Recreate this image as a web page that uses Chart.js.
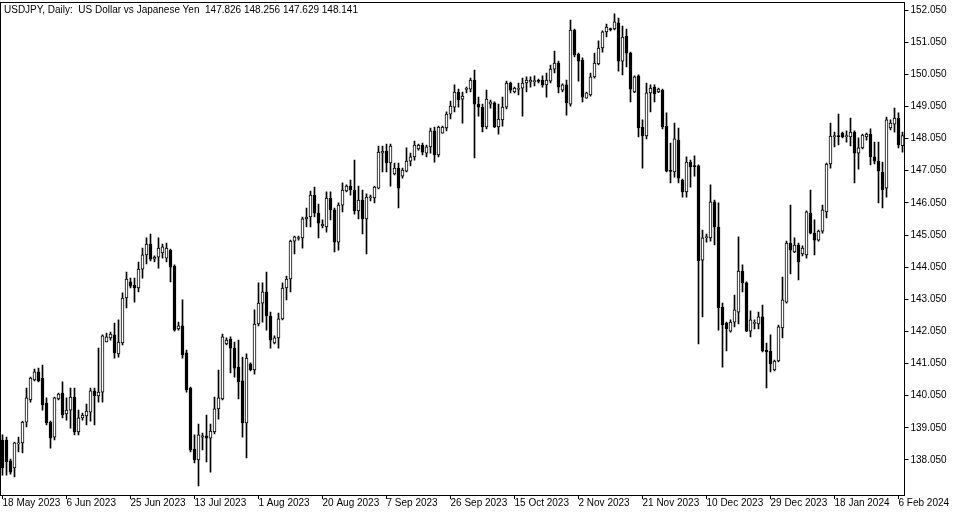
<!DOCTYPE html>
<html>
<head>
<meta charset="utf-8">
<script src="https://cdn.jsdelivr.net/npm/chart.js@4.4.1/dist/chart.umd.min.js"></script>
<style>
  html, body { margin: 0; padding: 0; background: #fff; }
  #wrap { position: relative; width: 957px; height: 512px; }
  #title { position: absolute; left: 4px; top: 4px; font: 10px "Liberation Sans", Arial, sans-serif; color: #000; white-space: pre; }
</style>
</head>
<body>
<div id="wrap">
  <canvas id="chart" width="957" height="512"></canvas>
  <div id="title">USDJPY, Daily:  US Dollar vs Japanese Yen  147.826 148.256 147.629 148.141</div>
</div>
<script>
// daily bars, oldest first
const opens = [
  138.67, 138.67, 138.02, 137.80, 138.55, 138.58, 139.23, 139.92, 140.54, 140.79,
  140.60, 139.82, 139.23, 138.76, 139.95, 140.13, 139.48, 139.60, 140.01, 138.92,
  139.36, 139.42, 139.54, 140.20, 140.04, 140.16, 141.72, 141.85, 141.94, 141.35,
  141.69, 143.09, 143.59, 143.49, 143.40, 143.99, 144.43, 144.77, 144.30, 144.36,
  144.49, 144.33, 144.58, 144.08, 142.13, 142.22, 141.38, 140.29, 138.39, 138.05,
  138.76, 138.80, 138.73, 138.92, 139.64, 139.95, 141.66, 141.81, 141.53, 140.94,
  140.51, 139.20, 141.04, 140.85, 142.28, 142.93, 143.28, 142.53, 141.69, 141.85,
  142.44, 143.40, 143.68, 144.86, 144.94, 144.96, 145.55, 145.61, 146.29, 145.73,
  145.33, 145.30, 146.20, 145.83, 144.83, 145.98, 146.42, 146.57, 146.45, 145.80,
  146.14, 145.55, 146.21, 146.20, 146.51, 147.60, 147.66, 147.29, 146.95, 147.13,
  146.88, 147.04, 147.35, 147.48, 147.73, 147.85, 147.60, 147.79, 148.29, 147.54,
  148.22, 148.38, 148.81, 149.03, 149.50, 149.28, 149.58, 149.59, 149.87, 149.12,
  149.03, 148.41, 149.12, 149.16, 148.41, 148.63, 149.03, 149.78, 149.50, 149.58,
  149.62, 149.78, 149.81, 149.82, 149.84, 149.87, 149.72, 149.84, 150.21, 150.40,
  149.56, 149.72, 149.12, 151.43, 150.68, 150.49, 149.31, 149.41, 149.97, 150.37,
  150.87, 151.37, 151.46, 151.46, 151.65, 150.46, 151.24, 150.71, 149.50, 150.00,
  148.41, 148.13, 149.47, 149.65, 149.50, 149.56, 148.44, 147.04, 147.01, 148.00,
  146.76, 146.39, 147.32, 147.20, 147.20, 144.27, 144.97, 144.96, 146.08, 145.30,
  142.81, 142.31, 142.06, 142.34, 142.65, 143.93, 143.56, 142.06, 142.30, 142.28,
  142.50, 141.47, 141.44, 140.85, 141.13, 142.16, 142.96, 144.80, 144.52, 144.74,
  144.46, 144.43, 145.73, 145.11, 144.89, 145.17, 145.77, 147.26, 148.11, 148.13,
  148.22, 148.11, 148.10, 148.25, 147.60, 147.76, 148.10, 148.19, 147.48, 147.35,
  147.01, 146.51, 148.38, 148.50, 148.69, 147.826
];
const highs = [
  138.83, 138.76, 138.08, 138.61, 138.76, 139.26, 140.29, 140.63, 140.88, 140.91,
  141.00, 139.98, 139.26, 140.01, 140.13, 140.48, 139.98, 140.29, 140.29, 139.60,
  139.51, 139.79, 140.29, 140.29, 141.53, 141.94, 142.00, 142.03, 142.31, 142.41,
  143.25, 143.90, 143.71, 143.71, 144.21, 144.64, 144.96, 145.08, 144.40, 144.96,
  144.77, 144.80, 144.61, 144.12, 142.34, 143.03, 141.47, 140.32, 138.83, 139.17,
  138.89, 139.45, 139.17, 140.01, 140.85, 141.97, 141.85, 141.88, 141.72, 141.78,
  141.25, 141.35, 141.07, 142.72, 143.56, 143.56, 143.90, 142.65, 141.91, 142.62,
  143.56, 143.77, 144.89, 145.02, 145.02, 145.61, 145.89, 146.42, 146.54, 146.01,
  145.52, 146.39, 146.39, 145.89, 146.05, 146.67, 146.61, 146.76, 147.38, 146.57,
  146.45, 146.33, 146.29, 146.57, 147.82, 147.82, 147.88, 147.88, 147.29, 147.29,
  147.13, 147.76, 147.60, 147.97, 147.88, 147.91, 147.85, 148.38, 148.41, 148.44,
  148.44, 148.88, 149.22, 149.72, 149.59, 149.50, 149.65, 149.93, 150.18, 149.34,
  149.12, 149.56, 149.25, 149.19, 149.12, 149.34, 149.84, 149.81, 149.65, 149.78,
  149.93, 149.97, 149.97, 150.00, 149.90, 150.00, 150.09, 150.34, 150.77, 150.46,
  149.75, 149.87, 151.74, 151.46, 150.71, 150.56, 149.50, 150.09, 150.71, 151.09,
  151.40, 151.61, 151.49, 151.93, 151.80, 151.55, 151.46, 150.74, 150.00, 150.03,
  148.63, 149.78, 149.72, 149.72, 149.62, 149.59, 148.85, 147.91, 148.53, 148.38,
  146.79, 147.48, 147.38, 147.51, 147.23, 145.20, 145.08, 146.61, 146.14, 146.05,
  142.93, 142.34, 142.41, 143.18, 144.99, 144.12, 143.59, 142.69, 142.41, 142.65,
  142.87, 141.69, 141.94, 141.16, 142.25, 143.74, 144.86, 145.98, 144.96, 144.80,
  144.71, 145.80, 146.45, 145.52, 145.20, 145.98, 147.29, 148.53, 148.25, 148.81,
  148.25, 148.29, 148.69, 148.29, 148.07, 148.19, 148.22, 148.35, 147.94, 147.94,
  147.32, 148.72, 148.63, 149.00, 148.85, 148.256
];
const lows = [
  137.58, 137.58, 137.61, 137.52, 138.30, 138.27, 139.08, 139.85, 140.51, 140.48,
  139.60, 139.14, 138.42, 138.67, 139.92, 139.36, 139.29, 139.04, 138.83, 138.83,
  139.29, 139.14, 139.26, 139.14, 139.85, 139.85, 141.72, 141.78, 141.22, 141.25,
  141.63, 142.78, 143.40, 142.96, 143.28, 143.71, 144.15, 144.24, 144.21, 144.02,
  144.33, 144.21, 143.59, 142.06, 142.09, 141.22, 140.16, 138.30, 137.96, 137.24,
  138.36, 137.99, 137.67, 138.86, 139.32, 139.92, 141.63, 140.76, 140.63, 139.95,
  138.76, 138.11, 140.82, 140.72, 142.22, 142.34, 142.09, 141.53, 141.66, 141.53,
  142.41, 143.03, 143.28, 144.46, 144.89, 144.64, 145.30, 145.30, 145.61, 144.96,
  145.27, 145.14, 145.52, 144.52, 144.58, 145.77, 146.39, 146.29, 145.70, 145.55,
  145.08, 144.46, 146.11, 146.05, 146.48, 147.01, 147.01, 146.57, 146.92, 145.89,
  146.82, 147.01, 147.20, 147.38, 147.69, 147.54, 147.48, 147.60, 147.32, 147.48,
  148.22, 148.29, 148.66, 148.88, 149.03, 148.53, 149.47, 149.50, 147.45, 148.75,
  148.26, 148.35, 149.00, 148.39, 148.19, 148.44, 148.97, 149.47, 149.47, 149.41,
  148.75, 149.50, 149.65, 149.69, 149.78, 149.65, 149.34, 149.78, 150.09, 149.47,
  149.50, 148.78, 149.06, 150.59, 149.84, 149.19, 149.31, 149.37, 149.93, 150.34,
  150.74, 151.21, 151.40, 151.43, 150.15, 150.03, 150.28, 149.19, 149.48, 148.10,
  147.13, 148.04, 148.88, 149.19, 149.48, 148.35, 147.01, 146.67, 146.85, 146.67,
  146.23, 146.23, 146.54, 146.88, 141.66, 142.50, 144.83, 144.86, 144.74, 142.09,
  140.94, 141.44, 142.03, 142.19, 142.28, 143.28, 142.04, 141.88, 142.13, 142.13,
  141.41, 140.29, 140.79, 140.82, 141.10, 141.85, 142.93, 143.84, 144.50, 143.65,
  144.40, 144.33, 145.08, 144.43, 144.86, 145.11, 145.58, 147.13, 147.79, 147.85,
  148.07, 147.94, 147.82, 146.67, 147.10, 147.73, 148.00, 147.23, 147.26, 146.05,
  145.89, 146.23, 148.32, 148.25, 147.76, 147.629
];
const closes = [
  137.80, 137.99, 137.67, 138.58, 138.58, 139.23, 139.98, 140.60, 140.79, 140.51,
  139.76, 139.20, 138.73, 139.98, 140.10, 139.45, 139.60, 140.01, 138.92, 139.36,
  139.45, 139.57, 140.20, 140.04, 140.16, 141.91, 141.88, 141.97, 141.38, 141.72,
  143.09, 143.68, 143.46, 143.40, 143.99, 144.43, 144.77, 144.30, 144.36, 144.64,
  144.68, 144.64, 144.05, 142.09, 142.22, 141.32, 140.23, 138.36, 138.05, 138.83,
  138.80, 138.73, 138.95, 139.64, 139.98, 141.88, 141.78, 141.53, 140.91, 140.48,
  139.20, 141.22, 140.85, 142.28, 142.93, 143.28, 142.53, 141.78, 141.85, 142.44,
  143.40, 143.68, 144.86, 144.99, 144.96, 145.55, 145.61, 146.29, 145.73, 145.42,
  145.39, 146.20, 145.83, 144.83, 145.98, 146.45, 146.57, 146.45, 145.80, 146.14,
  145.55, 146.23, 146.23, 146.54, 147.63, 147.66, 147.29, 147.82, 147.13, 146.51,
  147.07, 147.35, 147.48, 147.85, 147.85, 147.63, 147.79, 148.29, 147.54, 148.41,
  148.41, 148.81, 149.06, 149.50, 149.25, 149.37, 149.59, 149.87, 149.12, 149.03,
  148.41, 149.28, 149.19, 148.41, 148.66, 149.03, 149.78, 149.56, 149.62, 149.59,
  149.78, 149.87, 149.87, 149.84, 149.83, 149.72, 149.87, 150.21, 150.40, 149.65,
  149.72, 149.16, 151.43, 150.65, 150.46, 149.34, 149.47, 149.97, 150.40, 150.87,
  151.37, 151.52, 151.44, 151.68, 150.46, 151.21, 150.71, 149.59, 149.97, 148.38,
  148.13, 149.47, 149.62, 149.44, 149.59, 148.41, 147.04, 147.03, 148.04, 146.82,
  146.39, 147.32, 147.17, 147.18, 144.24, 144.96, 144.99, 146.08, 145.30, 142.78,
  142.25, 142.13, 142.34, 142.72, 143.93, 143.56, 142.06, 142.41, 142.31, 142.50,
  141.44, 141.41, 141.04, 141.13, 142.19, 143.03, 144.80, 144.58, 144.74, 144.21,
  144.64, 145.77, 145.11, 144.89, 145.17, 145.83, 147.26, 148.13, 148.13, 148.11,
  148.10, 148.13, 148.25, 147.60, 147.76, 148.16, 148.19, 147.48, 147.35, 147.04,
  146.45, 148.63, 148.53, 148.69, 147.85, 148.141
];

// one date label every 16 bars
const dateTicks = [
  '18 May 2023', '6 Jun 2023', '25 Jun 2023', '13 Jul 2023', '1 Aug 2023',
  '20 Aug 2023', '7 Sep 2023', '26 Sep 2023', '15 Oct 2023', '2 Nov 2023',
  '21 Nov 2023', '10 Dec 2023', '29 Dec 2023', '18 Jan 2024', '6 Feb 2024'
];
const BARS_PER_LABEL = 16;
const priceTicks = [
  138.05, 139.05, 140.05, 141.05, 142.05, 143.05, 144.05,
  145.05, 146.05, 147.05, 148.05, 149.05, 150.05, 151.05, 152.05
];

const bars = opens.map((_, i) => i);
const bodies = opens.map((o, i) => [o, closes[i]]);
const wicks = lows.map((l, i) => [l, highs[i]]);
const bodyColors = closes.map((c, i) => c >= opens[i] ? '#ffffff' : '#000000');

const FONT = { family: '"Liberation Sans", Arial, sans-serif', size: 10 };

// MT5-style frame around the plot area
const framePlugin = {
  id: 'frame',
  afterDraw(chart) {
    const { ctx, chartArea: a } = chart;
    ctx.save();
    ctx.strokeStyle = '#000';
    ctx.lineWidth = 1;
    ctx.strokeRect(Math.floor(a.left) + 0.5, Math.floor(a.top) + 0.5,
      Math.round(a.right - a.left), Math.round(a.bottom - a.top));
    ctx.restore();
  }
};

new Chart(document.getElementById('chart'), {
  type: 'bar',
  data: {
    labels: bars,
    datasets: [
      {
        label: 'body',
        data: bodies,
        grouped: false,
        order: 0,
        barThickness: 3,
        minBarLength: 1,
        backgroundColor: bodyColors,
        borderColor: '#000',
        borderWidth: 1,
        borderSkipped: false
      },
      {
        label: 'wick',
        data: wicks,
        grouped: false,
        order: 1,
        barThickness: 1,
        backgroundColor: '#000',
        borderWidth: 0
      }
    ]
  },
  options: {
    responsive: false,
    devicePixelRatio: 1,
    animation: false,
    events: [],
    layout: { padding: { left: 0.5, top: 2, right: 0, bottom: 0 } },
    plugins: { legend: { display: false }, tooltip: { enabled: false }, title: { display: false } },
    scales: {
      x: {
        type: 'category',
        offset: true,
        afterBuildTicks: axis => { axis.ticks = axis.ticks.filter(t => t.value % BARS_PER_LABEL === 0); },
        afterFit: scale => { scale.height = 17; scale.paddingLeft = 0; scale.paddingRight = 0; },
        border: { display: false },
        grid: { display: true, drawOnChartArea: false, offset: false, tickLength: 4, color: '#000' },
        ticks: {
          autoSkip: false, maxRotation: 0, align: 'start', padding: -2,
          color: '#000', font: FONT,
          callback: v => dateTicks[v / BARS_PER_LABEL]
        }
      },
      y: {
        type: 'linear',
        position: 'right',
        min: 136.96,
        max: 152.30,
        afterBuildTicks: axis => { axis.ticks = priceTicks.map(v => ({ value: v })); },
        afterFit: scale => { scale.width = 52.5; scale.paddingTop = 0; scale.paddingBottom = 0; },
        border: { display: false },
        grid: { display: true, drawOnChartArea: false, tickLength: 4, color: '#000' },
        ticks: {
          padding: 2, color: '#000', font: FONT,
          callback: v => v.toFixed(3)
        }
      }
    }
  },
  plugins: [framePlugin]
});
</script>
</body>
</html>
